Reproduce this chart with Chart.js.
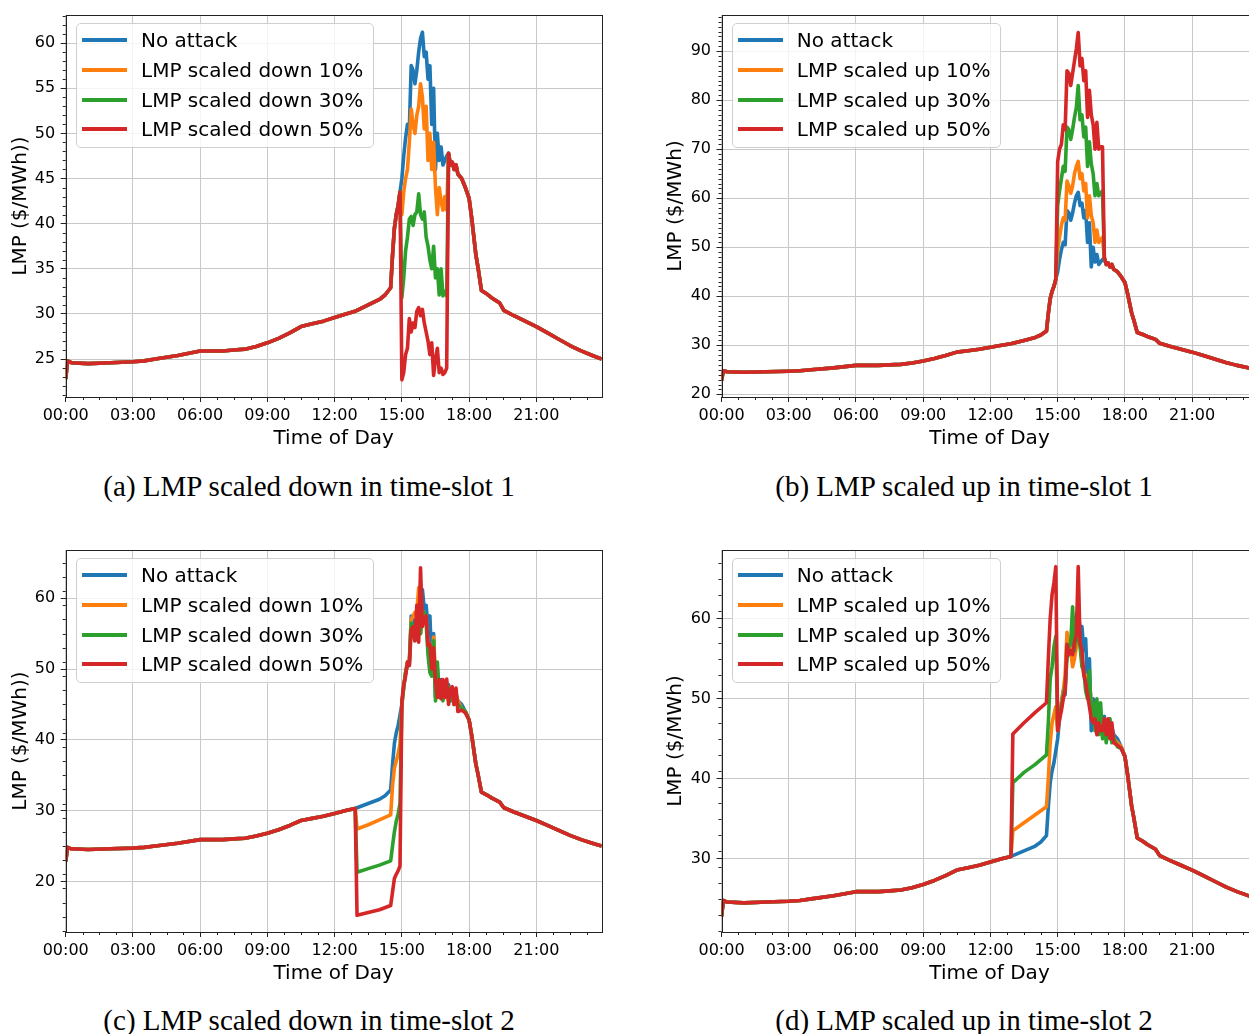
<!DOCTYPE html>
<html>
<head>
<meta charset="utf-8">
<script src="https://cdn.jsdelivr.net/npm/chart.js@4.4.1/dist/chart.umd.min.js"></script>
<style>
  html, body { margin: 0; padding: 0; background: #fff; overflow: hidden; }
  #page { position: relative; width: 1249px; height: 1034px; overflow: hidden; }
  canvas { position: absolute; }
  .legend { position: absolute; box-sizing: border-box; border: 1px solid #cfcfcf; border-radius: 5px;
            background: rgba(255,255,255,0.8); font-family: 'DejaVu Sans', sans-serif; font-size: 20px; color: #000; }
  .legend .row { position: absolute; left: 0; height: 24px; line-height: 24px; white-space: nowrap; }
  .legend .swatch { position: absolute; left: 5px; top: 10px; width: 45px; height: 4px; }
  .legend .txt { position: absolute; left: 64px; top: 0; }
  .caption { position: absolute; font-family: 'Liberation Serif', 'DejaVu Serif', serif; font-size: 29px;
             white-space: nowrap; transform: translate(-50%, -50%); color: #000; }
</style>
</head>
<body>
<div id="page"></div>
<script>
// x axis: minutes after midnight
const xTickMinutes = [0, 180, 360, 540, 720, 900, 1080, 1260];
const xTickLabels = ['00:00', '03:00', '06:00', '09:00', '12:00', '15:00', '18:00', '21:00'];

// "No attack" LMP, shared by all four panels
const baseTimes = [0, 5, 15, 60, 120, 180, 210, 240, 300, 360, 420, 450, 480, 510, 540, 570, 600, 630, 660, 690,
  720, 750, 775, 780, 810, 840, 855, 870, 875, 880, 885, 890, 895,
  900, 905, 910, 915, 920, 925, 930, 935, 940, 945, 950, 955, 960, 965, 970, 975, 980, 985, 990, 995,
  1000, 1005, 1010, 1015, 1020, 1025, 1030, 1035, 1040, 1045, 1050, 1060, 1070, 1080, 1087, 1098, 1104, 1113,
  1128, 1140, 1162, 1173, 1200, 1230, 1260, 1290, 1320, 1350, 1380, 1410, 1435];
const baseLMP = [22.8, 24.8, 24.6, 24.5, 24.6, 24.7, 24.8, 25.0, 25.4, 25.9, 25.9, 26.0, 26.1, 26.4, 26.8, 27.3, 27.9, 28.6, 28.9, 29.2,
  29.6, 30.0, 30.3, 30.4, 31.0, 31.6, 32.1, 32.9, 36.5, 39.5, 41.0, 42.0, 43.5,
  45.0, 47.5, 49.5, 51.0, 50.5, 57.5, 57.0, 55.5, 57.0, 59.0, 60.5, 61.2, 58.5, 59.0, 56.0, 57.5, 51.0, 55.0, 46.0, 50.0,
  47.0, 48.5, 46.5, 47.0, 47.5, 47.8, 46.5, 46.8, 46.0, 46.5, 45.5, 45.0, 44.0, 42.8, 40.6, 36.6, 35.1, 32.6,
  32.2, 31.8, 31.2, 30.4, 29.8, 29.2, 28.6, 27.9, 27.2, 26.5, 25.9, 25.4, 25.0];

// time-slot 1 attack window (15:00 - 17:00)
const slot1Times = [900, 905, 910, 915, 920, 925, 930, 935, 940, 945, 950, 955, 960, 965, 970, 975, 980, 985, 990, 995,
  1000, 1005, 1010, 1015, 1020];
const down10Slot1 = [41.0, 43.5, 45.0, 46.0, 49.0, 52.7, 51.0, 50.0, 52.0, 53.0, 55.5, 54.0, 50.5, 53.0, 47.0, 50.0, 46.0, 49.0, 44.0, 41.0,
  44.0, 42.5, 41.5, 43.0, 41.5];
const down30Slot1 = [31.8, 34.0, 37.0, 38.5, 40.5, 40.8, 39.8, 41.0, 41.3, 43.3, 41.0, 40.5, 41.3, 38.5, 37.5, 36.0, 35.0, 37.5, 34.0, 35.0,
  32.1, 35.0, 32.0, 32.5, 32.0];
const down50Slot1 = [22.7, 23.5, 25.5, 26.2, 29.5, 28.0, 29.0, 28.5, 30.3, 30.7, 29.8, 30.5, 29.0, 28.0, 27.0, 25.5, 26.8, 23.2, 25.0, 26.2,
  23.5, 24.0, 23.3, 23.5, 24.0];
const up10Slot1 = [49.5, 52.0, 54.5, 56.0, 55.5, 63.5, 62.5, 61.0, 62.5, 65.0, 66.5, 67.5, 64.0, 65.0, 61.5, 63.0, 56.0, 60.5, 56.5, 55.0,
  51.0, 53.5, 51.0, 51.5, 52.0];
const up30Slot1 = [58.5, 61.5, 64.0, 66.5, 65.5, 74.5, 74.0, 72.0, 74.0, 76.5, 78.5, 83.0, 76.0, 77.0, 72.5, 74.5, 66.5, 71.5, 67.0, 65.0,
  60.5, 63.0, 60.5, 61.0, 61.5];
const up50Slot1 = [67.5, 70.0, 71.0, 75.0, 74.0, 86.0, 85.5, 83.0, 85.5, 88.0, 90.5, 93.8, 87.0, 88.5, 84.0, 86.0, 76.5, 82.0, 77.0, 75.0,
  70.0, 75.5, 70.0, 70.5, 70.5];

// time-slot 2 attack window (13:00 - 15:00) and its after-effects
const slot2Times = [780, 810, 840, 870, 875, 880, 885, 890, 895,
  900, 905, 910, 915, 920, 925, 930, 935, 940, 945, 950, 955, 960, 965, 970, 975, 980, 985, 990, 995,
  1000, 1005, 1010, 1015, 1020, 1025, 1030, 1035, 1040, 1045, 1050, 1060, 1070];
const down10Slot2 = [27.4, 28.0, 28.7, 29.4, 33.5, 36.0, 37.0, 38.0, 39.5,
  45.0, 47.5, 49.5, 51.0, 51.0, 57.0, 57.5, 58.0, 58.0, 61.5, 55.0, 58.0, 57.0, 57.5, 53.0, 53.5, 50.0, 54.5, 49.0, 47.0,
  46.5, 48.0, 46.5, 47.0, 48.0, 45.5, 46.5, 47.0, 45.0, 46.5, 45.5, 44.5, 44.0];
const down30Slot2 = [21.3, 21.8, 22.3, 22.9, 25.0, 27.0, 28.5, 29.5, 31.0,
  45.0, 47.5, 49.5, 50.5, 51.0, 56.5, 55.5, 54.0, 56.0, 57.5, 55.0, 57.5, 58.0, 56.5, 52.0, 49.5, 49.0, 54.0, 45.5, 51.0,
  46.0, 47.5, 45.5, 47.5, 46.5, 47.5, 45.5, 46.0, 45.0, 46.0, 45.0, 44.5, 44.0];
const down50Slot2 = [15.2, 15.6, 16.0, 16.6, 18.5, 20.4, 21.0, 21.5, 22.2,
  45.5, 47.8, 49.0, 51.0, 50.5, 55.5, 56.0, 54.0, 59.0, 53.8, 64.3, 56.0, 57.0, 57.5, 53.3, 53.5, 50.0, 53.0, 48.2, 46.0,
  48.5, 45.8, 48.5, 46.0, 48.6, 45.0, 47.0, 47.5, 45.0, 47.3, 44.0, 44.2, 43.8];
const up10Slot2 = [33.5, 34.5, 35.5, 36.5, 40.0, 44.5, 47.0, 48.0, 49.0,
  46.0, 47.5, 49.5, 51.0, 53.0, 58.3, 57.0, 56.0, 54.0, 55.0, 56.5, 58.0, 57.0, 55.0, 53.0, 53.0, 50.5, 52.0, 49.5, 48.0,
  47.0, 48.5, 46.0, 47.5, 46.0, 47.0, 45.5, 46.5, 45.5, 46.0, 45.0, 44.5, 44.0];
const up30Slot2 = [39.5, 40.8, 41.8, 43.0, 47.0, 52.5, 54.0, 56.5, 57.8,
  46.5, 48.0, 49.0, 50.5, 51.5, 55.0, 56.5, 57.0, 61.5, 56.0, 60.0, 57.5, 56.5, 54.0, 53.5, 51.0, 50.0, 53.5, 48.0, 49.5,
  46.0, 50.0, 45.5, 49.5, 45.0, 47.5, 44.5, 46.5, 47.5, 44.5, 45.0, 44.0, 43.8];
const up50Slot2 = [45.6, 47.0, 48.3, 49.5, 55.0, 60.0, 63.0, 64.5, 66.5,
  46.0, 47.5, 48.5, 50.0, 51.0, 56.8, 55.5, 56.0, 55.5, 57.0, 58.0, 66.5, 57.0, 56.0, 53.0, 52.0, 50.5, 49.0, 47.5, 47.0,
  47.5, 45.5, 47.0, 46.0, 46.0, 47.5, 45.5, 47.5, 45.0, 47.0, 44.5, 44.2, 43.8];

const labelsDown = ['No attack', 'LMP scaled down 10%', 'LMP scaled down 30%', 'LMP scaled down 50%'];
const labelsUp = ['No attack', 'LMP scaled up 10%', 'LMP scaled up 30%', 'LMP scaled up 50%'];
const seriesColors = ['#1f77b4', '#ff7f0e', '#2ca02c', '#d62728'];

const yTicksA = [25, 30, 35, 40, 45, 50, 55, 60];
const yTicksB = [20, 30, 40, 50, 60, 70, 80, 90];
const yTicksC = [20, 30, 40, 50, 60];
const yTicksD = [30, 40, 50, 60];

const captions = ['(a) LMP scaled down in time-slot 1', '(b) LMP scaled up in time-slot 1',
  '(c) LMP scaled down in time-slot 2', '(d) LMP scaled up in time-slot 2'];

// baseline outside the window, attack values inside it
function withWindow(winTimes, winValues) {
  const start = winTimes[0], end = winTimes[winTimes.length - 1];
  const pts = [];
  baseTimes.forEach((t, i) => { if (t < start) pts.push({ x: t, y: baseLMP[i] }); });
  winTimes.forEach((t, i) => pts.push({ x: t, y: winValues[i] }));
  baseTimes.forEach((t, i) => { if (t > end) pts.push({ x: t, y: baseLMP[i] }); });
  return pts;
}
const baseline = baseTimes.map((t, i) => ({ x: t, y: baseLMP[i] }));

const panels = [
  { left: 0, top: 0, w: 640, spineL: 65.7, spineR: 601.7, yMin: 20.8, yMax: 63.1, yTicks: yTicksA, minorY: 1,
    yTitle: 'LMP ($/MWh))', yTitlePad: 9, labels: labelsDown, capX: 309, capY: 486,
    series: [baseline, withWindow(slot1Times, down10Slot1), withWindow(slot1Times, down30Slot1), withWindow(slot1Times, down50Slot1)] },
  { left: 640, top: 0, w: 640, spineL: 81.5, spineR: 617.5, yMin: 19.45, yMax: 97.36, yTicks: yTicksB, minorY: 1,
    yTitle: 'LMP ($/MWh)', yTitlePad: 24, labels: labelsUp, capX: 964, capY: 486,
    series: [baseline, withWindow(slot1Times, up10Slot1), withWindow(slot1Times, up30Slot1), withWindow(slot1Times, up50Slot1)] },
  { left: 0, top: 535, w: 640, spineL: 65.7, spineR: 601.7, yMin: 12.85, yMax: 66.8, yTicks: yTicksC, minorY: 2,
    yTitle: 'LMP ($/MWh))', yTitlePad: 9, labels: labelsDown, capX: 309, capY: 1020,
    series: [baseline, withWindow(slot2Times, down10Slot2), withWindow(slot2Times, down30Slot2), withWindow(slot2Times, down50Slot2)] },
  { left: 640, top: 535, w: 640, spineL: 81.5, spineR: 617.5, yMin: 20.86, yMax: 68.57, yTicks: yTicksD, minorY: 2,
    yTitle: 'LMP ($/MWh)', yTitlePad: 24, labels: labelsUp, capX: 964, capY: 1020,
    series: [baseline, withWindow(slot2Times, up10Slot2), withWindow(slot2Times, up30Slot2), withWindow(slot2Times, up50Slot2)] }
];

// spines and minor ticks (matplotlib look)
const frame = {
  id: 'frame',
  afterDatasetsDraw(chart, args, opts) {
    const { ctx, chartArea: a, scales: { x, y } } = chart;
    ctx.save();
    ctx.strokeStyle = '#222';
    ctx.lineWidth = 1;
    ctx.beginPath();
    for (let m = 45; m <= x.max; m += 45) {
      if (m % 180 === 0) continue;
      const px = Math.round(x.getPixelForValue(m)) + 0.5;
      ctx.moveTo(px, a.bottom); ctx.lineTo(px, a.bottom + 3);
    }
    for (let v = Math.ceil(y.min); v <= y.max; v += opts.minorY) {
      if (opts.major.includes(v)) continue;
      const py = Math.round(y.getPixelForValue(v)) + 0.5;
      ctx.moveTo(a.left, py); ctx.lineTo(a.left - 3, py);
    }
    ctx.stroke();
    ctx.strokeRect(Math.round(a.left) + 0.5, Math.round(a.top) + 0.5, Math.round(a.width), Math.round(a.height));
    ctx.restore();
  }
};

const page = document.getElementById('page');
const tickFont = { family: 'DejaVu Sans', size: 16 };
const titleFont = { family: 'DejaVu Sans', size: 20 };

panels.forEach((p, k) => {
  const canvas = document.createElement('canvas');
  canvas.width = p.w; canvas.height = 460;
  canvas.style.left = p.left + 'px'; canvas.style.top = p.top + 'px';
  page.appendChild(canvas);

  const datasets = p.series.map((pts, i) => ({
    label: p.labels[i], data: pts, borderColor: seriesColors[i], backgroundColor: seriesColors[i],
    borderWidth: 3.6, borderJoinStyle: 'round', pointRadius: 0, tension: 0, fill: false, order: 4 - i
  }));

  new Chart(canvas.getContext('2d'), {
    type: 'line',
    data: { datasets },
    options: {
      responsive: false, animation: false, devicePixelRatio: 1,
      layout: { padding: { left: 0, top: 12.7, right: p.w - p.spineR, bottom: 0 } },
      plugins: { legend: { display: false }, tooltip: { enabled: false }, frame: { minorY: p.minorY, major: p.yTicks } },
      scales: {
        x: {
          type: 'linear', min: 0, max: 1435,
          afterBuildTicks: s => { s.ticks = xTickMinutes.map(v => ({ value: v })); },
          afterFit: s => { s.height = 63; },
          ticks: { font: tickFont, color: '#000', padding: 4, maxRotation: 0, autoSkip: false,
                   callback: v => xTickLabels[xTickMinutes.indexOf(v)] },
          grid: { color: '#c8c8c8', tickColor: '#222', tickLength: 5 },
          border: { display: false },
          title: { display: true, text: 'Time of Day', font: titleFont, color: '#000', padding: { top: 0, bottom: 9 } }
        },
        y: {
          type: 'linear', min: p.yMin, max: p.yMax,
          afterBuildTicks: s => { s.ticks = p.yTicks.map(v => ({ value: v })); },
          afterFit: s => { s.width = p.spineL; },
          ticks: { font: tickFont, color: '#000', padding: 5.5 },
          grid: { color: '#c8c8c8', tickColor: '#222', tickLength: 5 },
          border: { display: false },
          title: { display: true, text: p.yTitle, font: titleFont, color: '#000', padding: { top: p.yTitlePad, bottom: 0 } }
        }
      }
    },
    plugins: [frame]
  });

  // legend box inside the axes, upper left
  const lg = document.createElement('div');
  lg.className = 'legend';
  lg.style.left = (p.left + p.spineL + 10.3) + 'px';
  lg.style.top = (p.top + 23) + 'px';
  lg.style.width = (p.labels === labelsDown ? 298 : 269.5) + 'px';
  lg.style.height = '125px';
  [4, 34, 63.5, 93].forEach((rowTop, i) => {
    const row = document.createElement('div');
    row.className = 'row';
    row.style.top = rowTop + 'px';
    row.innerHTML = '<span class="swatch" style="background:' + seriesColors[i] + '"></span><span class="txt">' + p.labels[i] + '</span>';
    lg.appendChild(row);
  });
  page.appendChild(lg);

  const cap = document.createElement('div');
  cap.className = 'caption';
  cap.style.left = p.capX + 'px';
  cap.style.top = p.capY + 'px';
  cap.textContent = captions[k];
  page.appendChild(cap);
});
</script>
</body>
</html>
